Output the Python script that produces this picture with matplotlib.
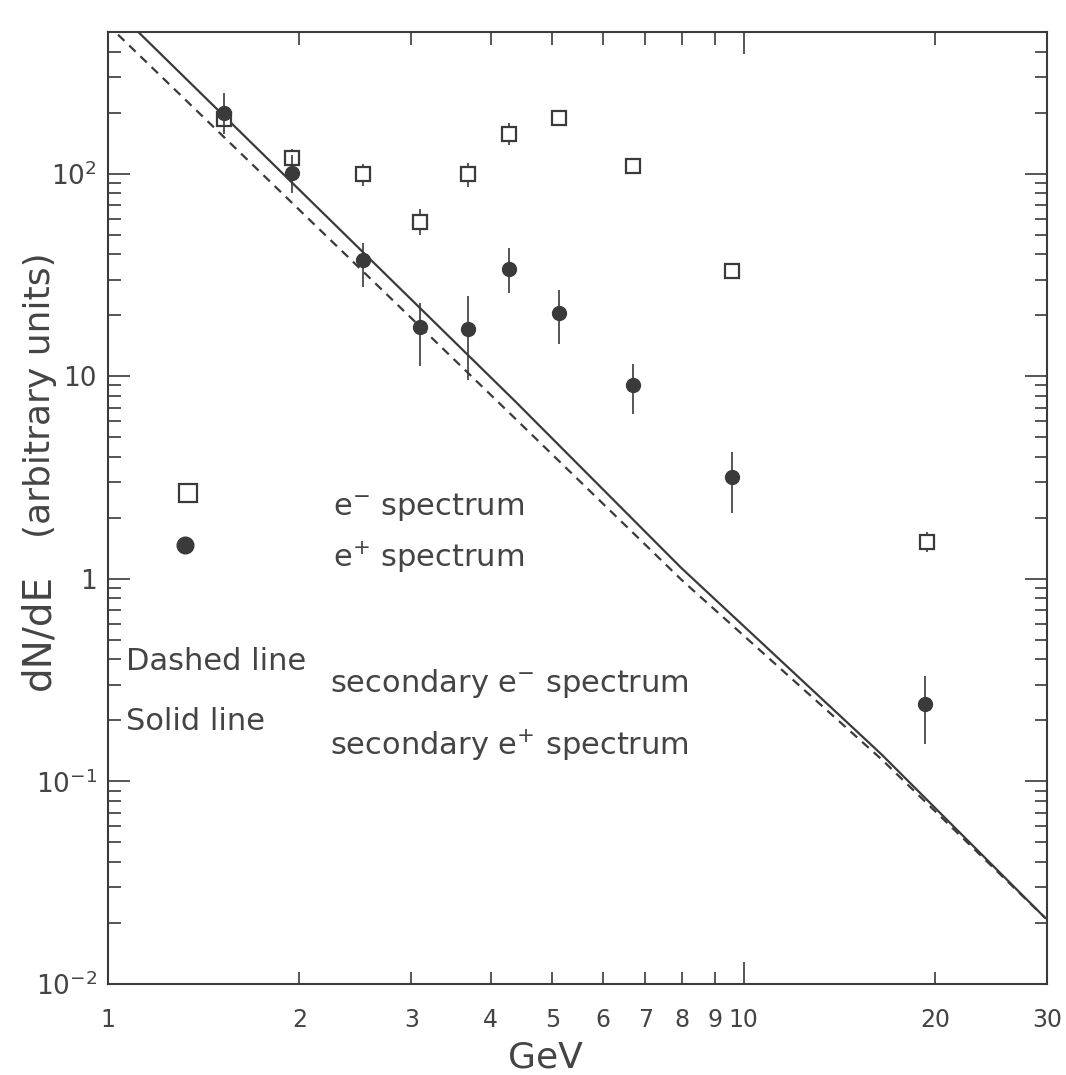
import numpy as np
import matplotlib.pyplot as plt
from matplotlib.ticker import FixedLocator, FixedFormatter, NullFormatter

# energies (GeV) and fluxes
e_minus_E = [1.52, 1.95, 2.52, 3.10, 3.69, 4.27, 5.13, 6.70, 9.60, 19.4]
e_minus_y = [185, 119, 99, 58, 99, 157, 188, 109, 33, 1.52]
e_minus_lo = [169, 107, 87, 50, 86, 139, 176, 102, 31, 1.35]
e_minus_hi = [203, 132, 112, 67, 113, 177, 201, 116, 35, 1.71]

e_plus_E = [1.52, 1.95, 2.52, 3.10, 3.69, 4.27, 5.13, 6.70, 9.60, 19.3]
e_plus_y = [200, 101, 37.4, 17.4, 17.1, 34.0, 20.4, 9.0, 3.18, 0.242]
e_plus_lo = [157, 80, 27.7, 11.2, 9.6, 25.8, 14.4, 6.5, 2.11, 0.153]
e_plus_hi = [250, 124, 45.7, 23.0, 24.9, 42.8, 26.5, 11.5, 4.24, 0.332]

# secondary spectra (model curves)
sec_minus_E = [1.037, 4.11, 7.99, 16.5, 29.8]
sec_minus_y = [485, 7.45, 0.986, 0.128, 0.0212]
sec_plus_E = [1.116, 4.37, 7.98, 16.47, 29.8]
sec_plus_y = [500, 7.52, 1.13, 0.136, 0.0212]

ytick_vals = [1e-2, 1e-1, 1, 10, 100]
ytick_labels = ['$10^{-2}$', '$10^{-1}$', '1', '10', '$10^{2}$']
xmajor = [1, 10, 30]
xminor = [2, 3, 4, 5, 6, 7, 8, 9, 20]

plt.rcParams['mathtext.default'] = 'regular'
ink = '#3a3a3a'
grey = '#444444'

W, H = 1066, 1075
fig = plt.figure(figsize=(W / 100, H / 100), dpi=100)
ax = fig.add_axes([108 / W, 1 - 984 / H, (1047 - 108) / W, (984 - 32) / H])

def fx(p):
    return p / W

def fy(p):
    return 1 - p / H

ax.set_xscale('log')
ax.set_yscale('log')
ax.set_xlim(1, 30)
ax.set_ylim(1e-2, 500)

ax.plot(sec_minus_E, sec_minus_y, ls=(0, (4, 3)), color=ink, lw=1.6)
ax.plot(sec_plus_E, sec_plus_y, ls='-', color=ink, lw=1.6)

y = np.array(e_minus_y)
ax.errorbar(e_minus_E, y, yerr=[y - np.array(e_minus_lo), np.array(e_minus_hi) - y],
            fmt='s', ms=10, mfc='white', mec=ink, mew=1.6, ecolor=ink,
            elinewidth=1.2, capsize=0, zorder=3)
y = np.array(e_plus_y)
ax.errorbar(e_plus_E, y, yerr=[y - np.array(e_plus_lo), np.array(e_plus_hi) - y],
            fmt='o', ms=10, mfc=ink, mec=ink, ecolor=ink,
            elinewidth=1.2, capsize=0, zorder=4)

# ticks
ax.yaxis.set_major_locator(FixedLocator(ytick_vals))
ax.yaxis.set_major_formatter(FixedFormatter(ytick_labels))
yminor = [m * 10.0 ** d for d in range(-2, 3) for m in range(2, 10) if m * 10.0 ** d < 500]
ax.yaxis.set_minor_locator(FixedLocator(yminor))
ax.yaxis.set_minor_formatter(NullFormatter())

ax.xaxis.set_major_locator(FixedLocator(xmajor))
ax.xaxis.set_major_formatter(FixedFormatter([str(v) for v in xmajor]))
ax.xaxis.set_minor_locator(FixedLocator(xminor))
ax.xaxis.set_minor_formatter(FixedFormatter([str(v) for v in xminor]))

ax.tick_params(which='both', direction='in', top=True, right=True, color=ink,
               labelcolor=grey)
ax.tick_params(which='major', length=16, width=1.2)
ax.tick_params(which='minor', length=9, width=1.2)
ax.tick_params(axis='x', which='both', labelsize=17, pad=17)
ax.tick_params(axis='y', which='both', labelsize=19, pad=8)
for s in ax.spines.values():
    s.set_color(ink)
    s.set_linewidth(1.5)

# axis titles
fig.text(fx(545), fy(1057), 'GeV', fontsize=26, color=grey, ha='center', va='center')
fig.text(fx(38), fy(632), 'dN/dE', fontsize=28, color=grey, rotation=90,
         ha='center', va='center')
fig.text(fx(40), fy(395), '(arbitrary units)', fontsize=26, color=grey,
         rotation=90, ha='center', va='center')

# hand-drawn key
fig.lines.append(plt.Line2D([fx(188)], [fy(493)], marker='s', ms=13, mfc='white',
                            mec=ink, mew=1.6, transform=fig.transFigure))
fig.lines.append(plt.Line2D([fx(185)], [fy(545)], marker='o', ms=12, mfc=ink,
                            mec=ink, transform=fig.transFigure))
txt = dict(fontsize=22, color=grey, va='center')
fig.text(fx(333), fy(507), '$e^{-}$ spectrum', **txt)
fig.text(fx(333), fy(557), '$e^{+}$ spectrum', **txt)
fig.text(fx(126), fy(662), 'Dashed line', **txt)
fig.text(fx(330), fy(683), 'secondary $e^{-}$ spectrum', **txt)
fig.text(fx(126), fy(722), 'Solid line', **txt)
fig.text(fx(330), fy(745), 'secondary $e^{+}$ spectrum', **txt)

fig.savefig('out.png', dpi=100)
